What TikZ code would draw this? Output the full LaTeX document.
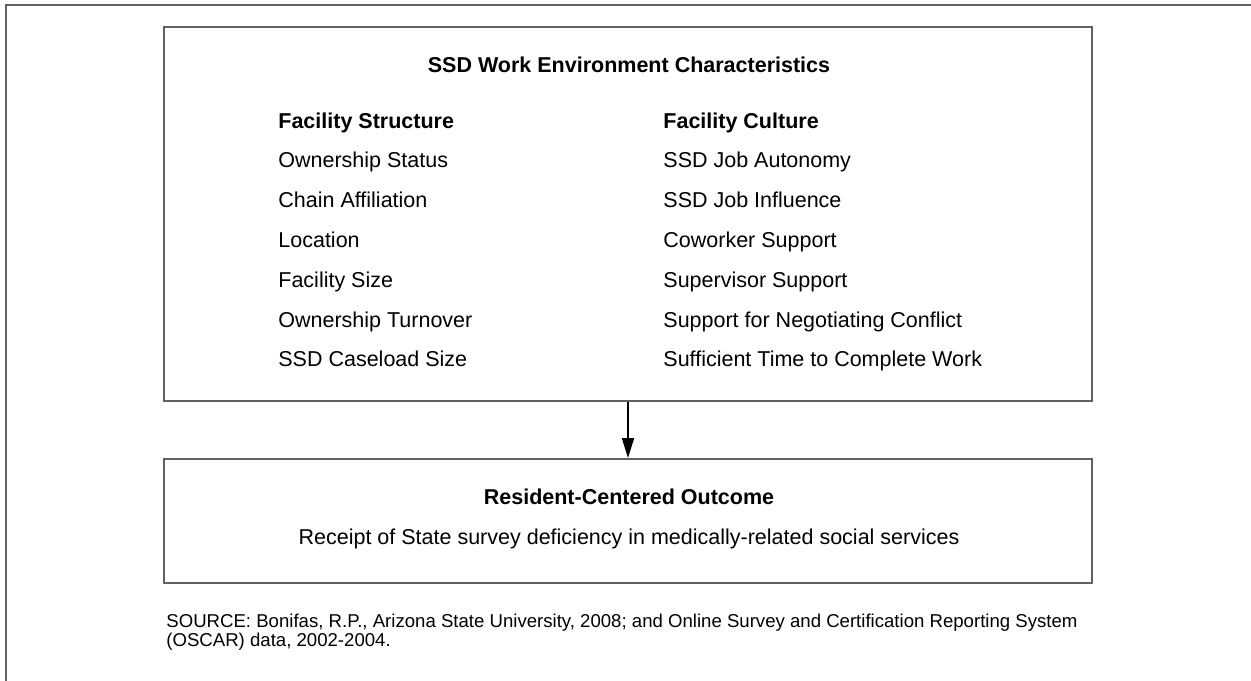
\documentclass[tikz,border=0pt]{standalone}
\usepackage{fontspec}
\setmainfont{Liberation Sans}
\usetikzlibrary{arrows.meta}
\definecolor{framegray}{gray}{0.38}
\begin{document}
\begin{tikzpicture}[x=0.5pt,y=-0.5pt,
	box/.style={draw=framegray,line width=1pt,minimum width=464pt,inner sep=0pt},
	item/.style={anchor=base west,inner sep=0pt,font=\fontsize{10.75}{12}\selectfont},
	head/.style={item,font=\fontsize{10.75}{12}\selectfont\bfseries},
	srcline/.style={anchor=base west,inner sep=0pt,font=\fontsize{9.3}{10}\selectfont}]
	\useasboundingbox (0,0) rectangle (1251,680);
	\draw[framegray,line width=1pt] (6,700) -- (6,5) -- (1270,5);
	\node[box,minimum height=187pt] (env) at (628,214) {};
	\node[box,minimum height=62pt] (out) at (628,521) {};
	\draw[line width=1pt,-{Triangle[length=10pt,width=6pt]}] (env) -- (out);
	\node[head,anchor=base] (title) at (629,72) {SSD Work Environment Characteristics};
	\node[head] (sh) at (278,128) {Facility Structure};
	\node[head] (ch) at (663,128) {Facility Culture};
	\foreach \i/\t in {1/Ownership Status,2/Chain Affiliation,3/Location,4/Facility Size,5/Ownership Turnover,6/SSD Caseload Size}{
	\node[item] (s\i) at (278,{128+39.8*\i}) {\t};
	}
	\foreach \i/\t in {1/SSD Job Autonomy,2/SSD Job Influence,3/Coworker Support,4/Supervisor Support,5/Support for Negotiating Conflict,6/Sufficient Time to Complete Work}{
	\node[item] (c\i) at (663,{128+39.8*\i}) {\t};
	}
	\node[head,anchor=base] (outhead) at (629,504) {Resident-Centered Outcome};
	\node[item,anchor=base] (outtext) at (629,544) {Receipt of State survey deficiency in medically-related social services};
	\node[srcline] (src1) at (166,627) {SOURCE: Bonifas, R.P., Arizona State University, 2008; and Online Survey and Certification Reporting System};
	\node[srcline] (src2) at (166,646) {(OSCAR) data, 2002-2004.};
\end{tikzpicture}
\end{document}
